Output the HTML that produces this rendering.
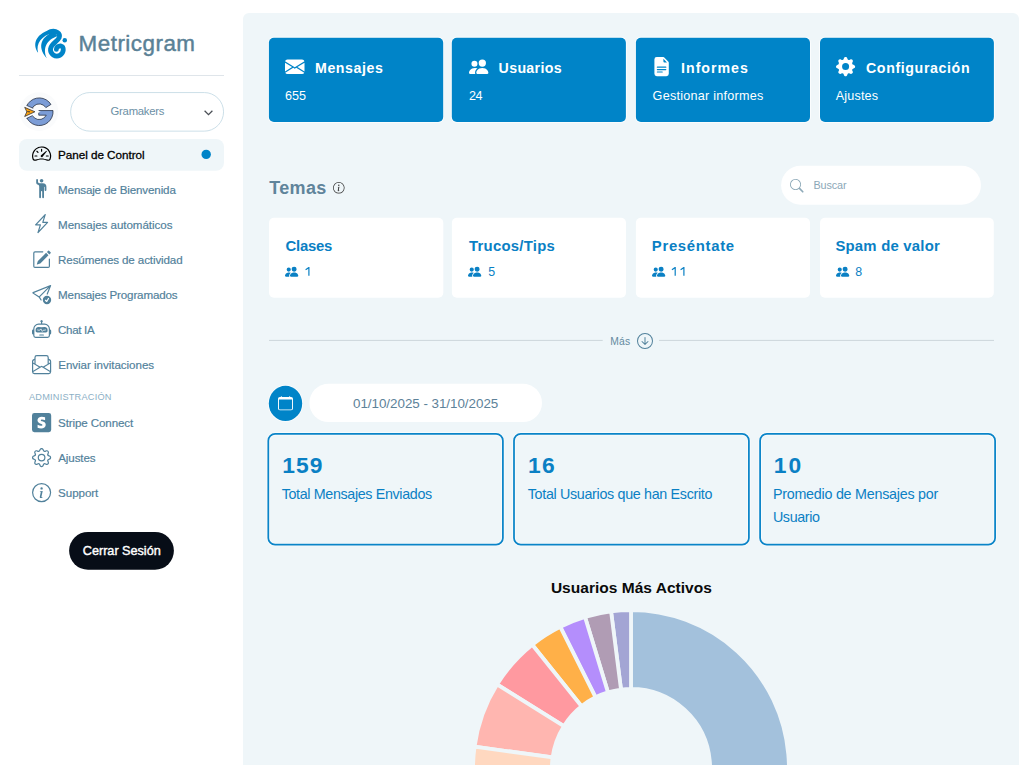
<!DOCTYPE html>
<html lang="es">
<head>
<meta charset="utf-8">
<title>Metricgram</title>
<style>
*{box-sizing:border-box;margin:0;padding:0}
html,body{width:1032px;height:765px;overflow:hidden;background:#fff}
body{position:relative;font-family:"Liberation Sans",sans-serif;color:#51819b}
svg{position:absolute;display:block;overflow:visible}
text{white-space:pre}
</style>
</head>
<body>
<svg id="bg" style="left:0;top:0" width="1032" height="765" viewBox="0 0 1032 765">
<path d="M243 766V19a6 6 0 0 1 6-6h764a6 6 0 0 1 6 6v747z" fill="#eff6f9"/>
<rect x="19" y="75" width="205" height="1" fill="#dfe5ea"/>
<rect x="70.65" y="92.55" width="152.9" height="38.6" rx="19.3" fill="#fff" stroke="#c9dde7" stroke-width="0.95"/>
<rect x="19" y="139" width="205" height="31.8" rx="8" fill="#eff6f9"/>
<circle cx="206.2" cy="154.4" r="4.7" fill="#0084c8"/>
<rect x="69.1" y="531.9" width="104.8" height="37.8" rx="18.9" fill="#070d17"/>
<g fill="#0084c8" stroke="#fff" stroke-opacity=".85" stroke-width="1.7" paint-order="stroke">
<rect x="268.9" y="37.7" width="174.3" height="84.3" rx="5"/>
<rect x="451.8" y="37.7" width="174.1" height="84.3" rx="5"/>
<rect x="635.9" y="37.7" width="174.1" height="84.3" rx="5"/>
<rect x="820" y="37.7" width="173.9" height="84.3" rx="5"/>
</g>
<rect x="781.1" y="165.7" width="199.9" height="39" rx="19.5" fill="#fff"/>
<g fill="#fff">
<rect x="269" y="217.7" width="174.3" height="80.1" rx="5"/>
<rect x="451.9" y="217.7" width="174.1" height="80.1" rx="5"/>
<rect x="635.9" y="217.7" width="174.1" height="80.1" rx="5"/>
<rect x="820" y="217.7" width="173.8" height="80.1" rx="5"/>
</g>
<rect x="269" y="339.9" width="333.7" height="1" fill="#ccd6db"/>
<rect x="659" y="339.9" width="335" height="1" fill="#ccd6db"/>
<ellipse cx="285.5" cy="403.4" rx="16.7" ry="17.6" fill="#0084c8" stroke="#fff" stroke-opacity=".8" stroke-width="1.6" paint-order="stroke"/>
<rect x="309.4" y="383.7" width="232.6" height="38.4" rx="19.2" fill="#fff"/>
<g fill="none" stroke="#fff" stroke-opacity=".7" stroke-width="3.3">
<rect x="268.3" y="433.9" width="234.6" height="110.8" rx="6.8"/>
<rect x="514" y="433.9" width="234.9" height="110.8" rx="6.8"/>
<rect x="760.1" y="433.9" width="235" height="110.8" rx="6.8"/>
</g>
<g fill="none" stroke="#0a84c8" stroke-width="1.75">
<rect x="268.3" y="433.9" width="234.6" height="110.8" rx="6.8"/>
<rect x="514" y="433.9" width="234.9" height="110.8" rx="6.8"/>
<rect x="760.1" y="433.9" width="235" height="110.8" rx="6.8"/>
</g>
<path fill="#0a80c4" d="M309.5 267V275.7H308.3V268.7L305.9 270.3L305.3 269.3L308.5 267ZM675.8 267V275.7H674.6V268.7L672.2 270.3L671.6 269.3L674.8 267ZM684.5 267V275.7H683.3V268.7L680.9 270.3L680.3 269.3L683.5 267Z"/>
</svg>
<svg id="logo" style="left:28px;top:20px" width="50" height="45" viewBox="0 0 850 765">
  <g fill="#0084c8">
    <path d="M172 556 C85 440 95 250 385 160 L420 225 C235 260 130 400 172 556Z"/>
    <path d="M320 652 C180 500 175 300 440 205 L505 275 C320 325 240 480 320 652Z"/>
    <circle cx="625" cy="345" r="38"/>
  </g>
  <path d="M375 200 C480 172 556 225 530 300 C500 372 396 400 383 490 C372 580 468 640 540 600 C620 555 612 452 560 442 C512 436 482 470 482 500" fill="none" stroke="#0084c8" stroke-linecap="round" stroke-width="82"/>
</svg>
<svg id="avatarG" style="left:14px;top:88px" width="50" height="46" viewBox="0 0 832 765">
<defs><mask id="gm"><rect width="832" height="765" fill="#fff"/><path d="M443 393 L120 250 L120 548 Z" fill="#000"/></mask></defs>
<circle cx="415" cy="392" r="322" fill="#fafbfc"/>
<g mask="url(#gm)"><path d="M615 273 A230 230 0 1 0 649.1 375 L412 375 L412 452 L536.8 452 A130 130 0 1 1 530.2 326.1 Z" fill="#7b9cd6" stroke="#1b2333" stroke-width="12" stroke-linejoin="round"/></g>
<path d="M213 291 L314 336 M213 504 L302 461" stroke="#1b2333" stroke-width="11" stroke-linecap="round"/>
<path d="M178 322 L348 395 L178 474 L214 395 Z" fill="#fca311" stroke="#1b2333" stroke-width="12" stroke-linejoin="round"/>
<path d="M196 395 L262 381 L262 408 Z" fill="#3a3a3a"/>
</svg>
<svg style="left:204.3px;top:109.6px" width="9" height="6" viewBox="0 0 9 6"><path d="M.6.7 4.5 4.7 8.4.7" fill="none" stroke="#4a4f55" stroke-width="1.25"/></svg>
<svg style="left:31.9px;top:143.6px" width="19.2" height="19.2" viewBox="0 0 16 16" fill="#000"><path d="M8 4a.5.5 0 0 1 .5.5V6a.5.5 0 0 1-1 0V4.500A.5.5 0 0 1 8 4zM3.732 5.732a.5.5 0 0 1 .707 0l.915.914a.5.5 0 1 1-.708.708l-.914-.915a.5.5 0 0 1 0-.707zM2 10a.5.5 0 0 1 .5-.5h1.586a.5.5 0 0 1 0 1H2.500A.5.5 0 0 1 2 10zm9.500 0a.5.5 0 0 1 .5-.5h1.500a.5.5 0 0 1 0 1H12a.5.5 0 0 1-.5-.5zm.754-4.246a.389.389 0 0 0-.527-.020L7.547 9.310a.910.910 0 1 0 1.302 1.258l3.434-4.297a.389.389 0 0 0-.029-.518z"/><path fill-rule="evenodd" d="M0 10a8 8 0 1 1 15.547 2.661c-.442 1.253-1.845 1.602-2.932 1.250C11.309 13.488 9.475 13 8 13c-1.474 0-3.310.488-4.615.911-1.087.352-2.490.003-2.932-1.250A7.988 7.988 0 0 1 0 10zm8-7a7 7 0 0 0-6.603 9.329c.203.575.923.876 1.680.630C4.397 12.533 6.358 12 8 12s3.604.532 4.923.960c.757.245 1.477-.056 1.680-.631A7 7 0 0 0 8 3z"/></svg>
<svg style="left:31.8px;top:178.85px" width="19.2" height="19.2" viewBox="0 0 16 16" fill="#51819b"><path d="M6 6.207v9.043a.75.75 0 0 0 1.500 0V10.500a.5.5 0 0 1 1 0v4.750a.75.75 0 0 0 1.500 0v-8.500a.25.25 0 1 1 .5 0v2.500a.75.75 0 0 0 1.500 0V6.500a3 3 0 0 0-3-3H6.236a.998.998 0 0 1-.447-.106l-.330-.165A.830.830 0 0 1 5 2.488V.750a.75.75 0 0 0-1.500 0v2.083c0 .715.404 1.370 1.044 1.689L5.500 5c.320.320.500.754.500 1.207Z"/><path d="M8 3a1.500 1.500 0 1 0 0-3 1.500 1.500 0 0 0 0 3Z"/></svg>
<svg style="left:31.8px;top:213.9px" width="19.2" height="19.2" viewBox="0 0 16 16" fill="#51819b"><path d="M11.251.068a.5.5 0 0 1 .227.580L9.677 6.500H13a.5.5 0 0 1 .364.843l-8 8.500a.5.5 0 0 1-.842-.490L6.323 9.500H3a.5.5 0 0 1-.364-.843l8-8.500a.5.5 0 0 1 .615-.090zM4.157 8.500H7a.5.5 0 0 1 .478.647L6.110 13.590l5.732-6.090H9a.5.5 0 0 1-.478-.647L9.890 2.410 4.157 8.500z"/></svg>
<svg style="left:31.86px;top:249.85px" width="19.2" height="19.2" viewBox="0 0 16 16" fill="#51819b"><path d="M15.502 1.940a.5.5 0 0 1 0 .706L14.459 3.690l-2-2L13.502.646a.5.5 0 0 1 .707 0l1.293 1.293zm-1.750 2.456-2-2L4.939 9.210a.5.5 0 0 0-.121.196l-.805 2.414a.25.25 0 0 0 .316.316l2.414-.805a.5.5 0 0 0 .196-.120l6.813-6.814z"/><path fill-rule="evenodd" d="M1 13.500A1.500 1.500 0 0 0 2.500 15h11a1.500 1.500 0 0 0 1.500-1.500v-6a.5.5 0 0 0-1 0v6a.5.5 0 0 1-.5.5h-11a.5.5 0 0 1-.5-.5v-11a.5.5 0 0 1 .5-.5H9a.5.5 0 0 0 0-1H2.500A1.500 1.500 0 0 0 1 2.500v11z"/></svg>
<svg style="left:31.9px;top:284.9px" width="19.2" height="19.2" viewBox="0 0 16 16" fill="#51819b"><path d="M15.964.686a.5.5 0 0 0-.650-.650L.767 5.855a.75.75 0 0 0-.124 1.329l4.995 3.178 1.531 2.406a.5.5 0 0 0 .844-.536L6.637 10.070l7.494-7.494-1.895 4.738a.5.5 0 1 0 .928.372l2.800-7Zm-2.540 1.183L5.930 9.363 1.591 6.602l11.833-4.733Z"/><path d="M16 12.500a3.500 3.500 0 1 1-7 0 3.500 3.500 0 0 1 7 0Zm-1.993-1.679a.5.5 0 0 0-.686.172l-1.170 1.950-.547-.547a.5.5 0 0 0-.708.708l.774.773a.75.75 0 0 0 1.174-.144l1.335-2.226a.5.5 0 0 0-.172-.686Z"/></svg>
<svg style="left:31.9px;top:319.9px" width="19.2" height="19.2" viewBox="0 0 16 16" fill="#51819b"><path d="M6 12.500a.5.5 0 0 1 .5-.5h3a.5.5 0 0 1 0 1h-3a.5.5 0 0 1-.5-.5ZM3 8.062C3 6.760 4.235 5.765 5.530 5.886a26.580 26.580 0 0 0 4.940 0C11.765 5.765 13 6.760 13 8.062v1.157a.933.933 0 0 1-.765.935c-.845.147-2.340.346-4.235.346-1.895 0-3.390-.200-4.235-.346A.933.933 0 0 1 3 9.219V8.062Zm4.542-.827a.25.25 0 0 0-.217.068l-.920.900a24.767 24.767 0 0 1-1.871-.183.25.25 0 0 0-.068.495c.550.076 1.232.149 2.020.193a.25.25 0 0 0 .189-.071l.754-.736.847 1.710a.25.25 0 0 0 .404.062l.932-.970a25.286 25.286 0 0 0 1.922-.188.25.25 0 0 0-.068-.495c-.538.074-1.207.145-1.980.189a.25.25 0 0 0-.166.076l-.754.785-.842-1.700a.25.25 0 0 0-.182-.135Z"/><path d="M8.500 1.866a1 1 0 1 0-1 0V3h-2A4.500 4.500 0 0 0 1 7.500V8a1 1 0 0 0-1 1v2a1 1 0 0 0 1 1v1a2 2 0 0 0 2 2h10a2 2 0 0 0 2-2v-1a1 1 0 0 0 1-1V9a1 1 0 0 0-1-1v-.5A4.500 4.500 0 0 0 10.500 3h-2V1.866ZM14 7.500V13a1 1 0 0 1-1 1H3a1 1 0 0 1-1-1V7.500A3.500 3.500 0 0 1 5.500 4h5A3.500 3.500 0 0 1 14 7.500Z"/></svg>
<svg style="left:31.9px;top:354.9px" width="19.2" height="19.2" viewBox="0 0 16 16" fill="#51819b"><path d="M4 0a2 2 0 0 0-2 2v1.133l-.941.502A2 2 0 0 0 0 5.400V14a2 2 0 0 0 2 2h12a2 2 0 0 0 2-2V5.400a2 2 0 0 0-1.059-1.765L14 3.133V2a2 2 0 0 0-2-2H4Zm10 4.267.470.250A1 1 0 0 1 15 5.400v.817l-1 .600v-2.550Zm-1 3.150-3.750 2.250L8 8.917l-1.250.750L3 7.417V2a1 1 0 0 1 1-1h8a1 1 0 0 1 1 1v5.417Zm-11-.600-1-.600V5.400a1 1 0 0 1 .530-.882L2 4.267v2.550Zm13 .566v5.734l-4.778-2.867L15 7.383Zm-.035 6.880A1 1 0 0 1 14 15H2a1 1 0 0 1-.965-.738L8 10.083l6.965 4.180ZM1 13.116V7.383l4.778 2.867L1 13.117Z"/></svg>
<svg style="left:31.9px;top:412.9px" width="19.2" height="19.2" viewBox="0 0 16 16" fill="#51819b"><path d="M2 0a2 2 0 0 0-2 2v12a2 2 0 0 0 2 2h12a2 2 0 0 0 2-2V2a2 2 0 0 0-2-2H2Zm6.226 5.385c-.584 0-.937.164-.937.590 0 .466.600.670 1.345.925 1.214.410 2.812.953 2.819 2.961 0 1.946-1.555 3.065-3.818 3.065a7.550 7.550 0 0 1-2.966-.616v-2.588c.913.498 2.065.868 2.966.868.608 0 1.043-.163 1.043-.663 0-.512-.648-.746-1.431-1.028-1.192-.430-2.696-.973-2.696-2.786 0-1.925 1.470-3.076 3.675-3.076.901 0 1.792.140 2.692.498v2.552c-.827-.446-1.875-.702-2.692-.702Z"/></svg>
<svg style="left:31.9px;top:447.9px" width="19.2" height="19.2" viewBox="0 0 16 16" fill="#51819b"><path d="M8 4.754a3.246 3.246 0 1 0 0 6.492 3.246 3.246 0 0 0 0-6.492zM5.754 8a2.246 2.246 0 1 1 4.492 0 2.246 2.246 0 0 1-4.492 0z"/><path d="M9.796 1.343c-.527-1.790-3.065-1.790-3.592 0l-.094.319a.873.873 0 0 1-1.255.520l-.292-.160c-1.640-.892-3.433.902-2.540 2.541l.159.292a.873.873 0 0 1-.520 1.255l-.319.094c-1.790.527-1.790 3.065 0 3.592l.319.094a.873.873 0 0 1 .520 1.255l-.160.292c-.892 1.640.901 3.434 2.541 2.540l.292-.159a.873.873 0 0 1 1.255.520l.094.319c.527 1.790 3.065 1.790 3.592 0l.094-.319a.873.873 0 0 1 1.255-.520l.292.160c1.640.893 3.434-.902 2.540-2.541l-.159-.292a.873.873 0 0 1 .520-1.255l.319-.094c1.790-.527 1.790-3.065 0-3.592l-.319-.094a.873.873 0 0 1-.520-1.255l.160-.292c.893-1.640-.902-3.433-2.541-2.540l-.292.159a.873.873 0 0 1-1.255-.520l-.094-.319zm-2.633.283c.246-.835 1.428-.835 1.674 0l.094.319a1.873 1.873 0 0 0 2.693 1.115l.291-.160c.764-.415 1.600.420 1.184 1.185l-.159.292a1.873 1.873 0 0 0 1.116 2.692l.318.094c.835.246.835 1.428 0 1.674l-.319.094a1.873 1.873 0 0 0-1.115 2.693l.160.291c.415.764-.420 1.600-1.185 1.184l-.291-.159a1.873 1.873 0 0 0-2.693 1.116l-.094.318c-.246.835-1.428.835-1.674 0l-.094-.319a1.873 1.873 0 0 0-2.692-1.115l-.292.160c-.764.415-1.600-.420-1.184-1.185l.159-.291A1.873 1.873 0 0 0 1.945 8.930l-.319-.094c-.835-.246-.835-1.428 0-1.674l.319-.094A1.873 1.873 0 0 0 3.060 4.377l-.160-.292c-.415-.764.420-1.600 1.185-1.184l.292.159a1.873 1.873 0 0 0 2.692-1.115l.094-.319z"/></svg>
<svg style="left:31.9px;top:482.9px" width="19.2" height="19.2" viewBox="0 0 16 16" fill="#51819b"><path d="M8 15A7 7 0 1 1 8 1a7 7 0 0 1 0 14zm0 1A8 8 0 1 0 8 0a8 8 0 0 0 0 16z"/><path d="m8.930 6.588-2.290.287-.082.380.450.083c.294.070.352.176.288.469l-.738 3.468c-.194.897.105 1.319.808 1.319.545 0 1.178-.252 1.465-.598l.088-.416c-.200.176-.492.246-.686.246-.275 0-.375-.193-.304-.533L8.930 6.588zM9 4.500a1 1 0 1 1-2 0 1 1 0 0 1 2 0z"/></svg>
<svg style="left:278px;top:395.8px" width="15" height="14.3" viewBox="0 0 16 16" preserveAspectRatio="none" fill="#fff"><path d="M3.500 0a.5.5 0 0 1 .5.5V1h8V.500a.5.5 0 0 1 1 0V1h1a2 2 0 0 1 2 2v11a2 2 0 0 1-2 2H2a2 2 0 0 1-2-2V3a2 2 0 0 1 2-2h1V.500a.5.5 0 0 1 .5-.5zM1 4v10a1 1 0 0 0 1 1h12a1 1 0 0 0 1-1V4H1z"/></svg>
<svg style="left:285px;top:56.6px" width="19.5" height="19.5" viewBox="0 0 16 16" fill="#fff"><path d="M.05 3.555A2 2 0 0 1 2 2h12a2 2 0 0 1 1.950 1.555L8 8.414.05 3.555ZM0 4.697v7.104l5.803-3.558L0 4.697ZM6.761 8.830l-6.570 4.027A2 2 0 0 0 2 14h12a2 2 0 0 0 1.808-1.144l-6.570-4.027L8 9.586l-1.239-.757Zm3.436-.586L16 11.801V4.697l-5.803 3.546Z"/></svg>
<svg style="left:468.5px;top:56.8px" width="19.4" height="19.4" viewBox="0 0 16 16" fill="#fff"><path d="M7 14s-1 0-1-1 1-4 5-4 5 3 5 4-1 1-1 1H7Zm4-6a3 3 0 1 0 0-6 3 3 0 0 0 0 6Zm-5.784 6A2.238 2.238 0 0 1 5 13c0-1.355.680-2.750 1.936-3.720A6.325 6.325 0 0 0 5 9c-4 0-5 3-5 4s1 1 1 1h4.216ZM4.500 8a2.500 2.500 0 1 0 0-5 2.500 2.500 0 0 0 0 5Z"/></svg>
<svg style="left:651.8px;top:56.8px" width="19.2" height="19.2" viewBox="0 0 16 16" fill="#fff"><path d="M9.293 0H4a2 2 0 0 0-2 2v12a2 2 0 0 0 2 2h8a2 2 0 0 0 2-2V4.707A1 1 0 0 0 13.707 4L10 .293A1 1 0 0 0 9.293 0zM9.500 3.500v-2l3 3h-2a1 1 0 0 1-1-1zM4.500 9a.5.5 0 0 1 0-1h7a.5.5 0 0 1 0 1h-7zM4 10.500a.5.5 0 0 1 .5-.5h7a.5.5 0 0 1 0 1h-7a.5.5 0 0 1-.5-.5zm.5 2.500a.5.5 0 0 1 0-1h4a.5.5 0 0 1 0 1h-4z"/></svg>
<svg style="left:835.5px;top:56.9px" width="19.2" height="19.2" viewBox="0 0 16 16" fill="#fff"><path d="M9.405 1.050c-.413-1.400-2.397-1.400-2.810 0l-.100.340a1.464 1.464 0 0 1-2.105.872l-.310-.170c-1.283-.698-2.686.705-1.987 1.987l.169.311c.446.820.023 1.841-.872 2.105l-.340.100c-1.400.413-1.400 2.397 0 2.810l.340.100a1.464 1.464 0 0 1 .872 2.105l-.170.310c-.698 1.283.705 2.686 1.987 1.987l.311-.169a1.464 1.464 0 0 1 2.105.872l.100.340c.413 1.400 2.397 1.400 2.810 0l.100-.340a1.464 1.464 0 0 1 2.105-.872l.310.170c1.283.698 2.686-.705 1.987-1.987l-.169-.311a1.464 1.464 0 0 1 .872-2.105l.340-.100c1.400-.413 1.400-2.397 0-2.810l-.340-.100a1.464 1.464 0 0 1-.872-2.105l.170-.310c.698-1.283-.705-2.686-1.987-1.987l-.311.169a1.464 1.464 0 0 1-2.105-.872l-.100-.340zM8 10.930a2.929 2.929 0 1 1 0-5.860 2.929 2.929 0 0 1 0 5.858z"/></svg>
<svg style="left:333px;top:181.6px" width="11.6" height="11.6" viewBox="0 0 16 16" fill="#333"><path d="M8 15A7 7 0 1 1 8 1a7 7 0 0 1 0 14zm0 1A8 8 0 1 0 8 0a8 8 0 0 0 0 16z"/><path d="m8.930 6.588-2.290.287-.082.380.450.083c.294.070.352.176.288.469l-.738 3.468c-.194.897.105 1.319.808 1.319.545 0 1.178-.252 1.465-.598l.088-.416c-.200.176-.492.246-.686.246-.275 0-.375-.193-.304-.533L8.930 6.588zM9 4.500a1 1 0 1 1-2 0 1 1 0 0 1 2 0z"/></svg>
<svg style="left:790px;top:179px" width="13.6" height="13.6" viewBox="0 0 16 16" fill="#8eaab9"><path d="M11.742 10.344a6.500 6.500 0 1 0-1.397 1.398h-.001c.030.040.062.078.098.115l3.850 3.850a1 1 0 0 0 1.415-1.414l-3.850-3.850a1.007 1.007 0 0 0-.115-.100zM12 6.500a5.500 5.500 0 1 1-11 0 5.500 5.500 0 0 1 11 0z"/></svg>
<svg style="left:285px;top:265px" width="13.3" height="13.3" viewBox="0 0 16 16" fill="#0a80c4"><path d="M7 14s-1 0-1-1 1-4 5-4 5 3 5 4-1 1-1 1H7Zm4-6a3 3 0 1 0 0-6 3 3 0 0 0 0 6Zm-5.784 6A2.238 2.238 0 0 1 5 13c0-1.355.680-2.750 1.936-3.720A6.325 6.325 0 0 0 5 9c-4 0-5 3-5 4s1 1 1 1h4.216ZM4.500 8a2.500 2.500 0 1 0 0-5 2.500 2.500 0 0 0 0 5Z"/></svg>
<svg style="left:468px;top:265px" width="13.3" height="13.3" viewBox="0 0 16 16" fill="#0a80c4"><path d="M7 14s-1 0-1-1 1-4 5-4 5 3 5 4-1 1-1 1H7Zm4-6a3 3 0 1 0 0-6 3 3 0 0 0 0 6Zm-5.784 6A2.238 2.238 0 0 1 5 13c0-1.355.680-2.750 1.936-3.720A6.325 6.325 0 0 0 5 9c-4 0-5 3-5 4s1 1 1 1h4.216ZM4.500 8a2.500 2.500 0 1 0 0-5 2.500 2.500 0 0 0 0 5Z"/></svg>
<svg style="left:652px;top:265px" width="13.3" height="13.3" viewBox="0 0 16 16" fill="#0a80c4"><path d="M7 14s-1 0-1-1 1-4 5-4 5 3 5 4-1 1-1 1H7Zm4-6a3 3 0 1 0 0-6 3 3 0 0 0 0 6Zm-5.784 6A2.238 2.238 0 0 1 5 13c0-1.355.680-2.750 1.936-3.720A6.325 6.325 0 0 0 5 9c-4 0-5 3-5 4s1 1 1 1h4.216ZM4.500 8a2.500 2.500 0 1 0 0-5 2.500 2.500 0 0 0 0 5Z"/></svg>
<svg style="left:835.5px;top:265px" width="13.3" height="13.3" viewBox="0 0 16 16" fill="#0a80c4"><path d="M7 14s-1 0-1-1 1-4 5-4 5 3 5 4-1 1-1 1H7Zm4-6a3 3 0 1 0 0-6 3 3 0 0 0 0 6Zm-5.784 6A2.238 2.238 0 0 1 5 13c0-1.355.680-2.750 1.936-3.720A6.325 6.325 0 0 0 5 9c-4 0-5 3-5 4s1 1 1 1h4.216ZM4.500 8a2.500 2.500 0 1 0 0-5 2.500 2.500 0 0 0 0 5Z"/></svg>
<svg style="left:637px;top:333px" width="16" height="16" viewBox="0 0 16 16" fill="#51819b"><path fill-rule="evenodd" d="M1 8a7 7 0 1 0 14 0A7 7 0 0 0 1 8zm15 0A8 8 0 1 1 0 8a8 8 0 0 1 16 0zM8.500 4.500a.5.5 0 0 0-1 0v5.793L5.354 8.146a.5.5 0 1 0-.708.708l3 3a.5.5 0 0 0 .708 0l3-3a.5.5 0 0 0-.708-.708L8.500 10.293V4.500z"/></svg>
<svg id="donut" style="left:0;top:0" width="1032" height="765" viewBox="0 0 1032 765"><g stroke="#eff6f9" stroke-width="3.8" stroke-linejoin="miter"><path d="M658.42 923.50A157.9 157.9 0 0 0 631.00 610.10L631.00 688.90A79.1 79.1 0 0 1 644.74 845.90Z" fill="#a3c1dc"/><path d="M631.00 610.10A157.9 157.9 0 0 0 611.05 611.37L621.01 689.53A79.1 79.1 0 0 1 631.00 688.90Z" fill="#a3a5d4"/><path d="M611.05 611.37A157.9 157.9 0 0 0 585.00 616.95L607.96 692.33A79.1 79.1 0 0 1 621.01 689.53Z" fill="#b09cb4"/><path d="M585.00 616.95A157.9 157.9 0 0 0 560.27 626.83L595.57 697.28A79.1 79.1 0 0 1 607.96 692.33Z" fill="#b48efc"/><path d="M560.27 626.83A157.9 157.9 0 0 0 532.25 644.79L581.53 706.28A79.1 79.1 0 0 1 595.57 697.28Z" fill="#ffb048"/><path d="M532.25 644.79A157.9 157.9 0 0 0 497.00 684.48L563.87 726.16A79.1 79.1 0 0 1 581.53 706.28Z" fill="#ff99a0"/><path d="M497.00 684.48A157.9 157.9 0 0 0 474.54 746.73L552.62 757.34A79.1 79.1 0 0 1 563.87 726.16Z" fill="#ffb6b0"/><path d="M474.54 746.73A157.9 157.9 0 0 0 484.60 827.15L557.66 797.63A79.1 79.1 0 0 1 552.62 757.34Z" fill="#ffd8c0"/></g></svg>
<svg id="txt" style="left:0;top:0" width="1032" height="765" viewBox="0 0 1032 765" font-family="Liberation Sans, sans-serif">
<text class="t" x="78.62" y="51" font-size="22.4" fill="#5a8196" stroke="#5a8196" stroke-width="0.45" stroke-linejoin="round" style="letter-spacing:0.493px">Metricgram</text>
<text class="t" x="110.60" y="115" font-size="11.3" fill="#6c8fa5" style="letter-spacing:-0.265px">Gramakers</text>
<text class="t" x="57.95" y="159" font-size="11.7" fill="#000" stroke="#000" stroke-width="0.3" stroke-linejoin="round" style="letter-spacing:-0.024px">Panel de Control</text>
<text class="t" x="58.09" y="194" font-size="11.6" fill="#51819b" stroke="#51819b" stroke-width="0.18" stroke-linejoin="round" style="letter-spacing:-0.138px">Mensaje de Bienvenida</text>
<text class="t" x="58.09" y="229" font-size="11.6" fill="#51819b" stroke="#51819b" stroke-width="0.18" stroke-linejoin="round" style="letter-spacing:-0.049px">Mensajes automáticos</text>
<text class="t" x="58.09" y="264" font-size="11.6" fill="#51819b" stroke="#51819b" stroke-width="0.18" stroke-linejoin="round" style="letter-spacing:-0.114px">Resúmenes de actividad</text>
<text class="t" x="58.09" y="299" font-size="11.6" fill="#51819b" stroke="#51819b" stroke-width="0.18" stroke-linejoin="round" style="letter-spacing:-0.154px">Mensajes Programados</text>
<text class="t" x="58.09" y="334" font-size="11.6" fill="#51819b" stroke="#51819b" stroke-width="0.18" stroke-linejoin="round" style="letter-spacing:-0.352px">Chat IA</text>
<text class="t" x="58.19" y="369" font-size="11.6" fill="#51819b" stroke="#51819b" stroke-width="0.18" stroke-linejoin="round" style="letter-spacing:-0.041px">Enviar invitaciones</text>
<text class="t" x="29.00" y="400" font-size="9.2" fill="#8db0c6" style="letter-spacing:0.216px">ADMINISTRACIÓN</text>
<text class="t" x="58.09" y="427" font-size="11.6" fill="#51819b" stroke="#51819b" stroke-width="0.18" stroke-linejoin="round" style="letter-spacing:-0.119px">Stripe Connect</text>
<text class="t" x="58.19" y="462" font-size="11.6" fill="#51819b" stroke="#51819b" stroke-width="0.18" stroke-linejoin="round" style="letter-spacing:-0.100px">Ajustes</text>
<text class="t" x="58.09" y="497" font-size="11.6" fill="#51819b" stroke="#51819b" stroke-width="0.18" stroke-linejoin="round" style="letter-spacing:-0.061px">Support</text>
<text class="t" x="82.80" y="555" font-size="12.7" fill="#fff" stroke="#fff" stroke-width="0.4" stroke-linejoin="round" style="letter-spacing:-0.026px">Cerrar Sesión</text>
<text class="t" x="315.00" y="73" font-size="14.2" fill="#fff" font-weight="bold" style="letter-spacing:0.573px">Mensajes</text>
<text class="t" x="285.00" y="100" font-size="12.6" fill="#fff" style="letter-spacing:-0.004px">655</text>
<text class="t" x="498.60" y="73" font-size="14.2" fill="#fff" font-weight="bold" style="letter-spacing:0.325px">Usuarios</text>
<text class="t" x="469.00" y="100" font-size="12.6" fill="#fff" style="letter-spacing:-0.404px">24</text>
<text class="t" x="681.10" y="73" font-size="14.2" fill="#fff" font-weight="bold" style="letter-spacing:0.968px">Informes</text>
<text class="t" x="652.60" y="100" font-size="12.6" fill="#fff" style="letter-spacing:0.253px">Gestionar informes</text>
<text class="t" x="866.00" y="73" font-size="14.2" fill="#fff" font-weight="bold" style="letter-spacing:0.618px">Configuración</text>
<text class="t" x="835.80" y="100" font-size="12.6" fill="#fff" style="letter-spacing:0.150px">Ajustes</text>
<text class="t" x="269.30" y="194" font-size="18.0" fill="#5f849b" font-weight="bold" style="letter-spacing:0.329px">Temas</text>
<text class="t" x="813.50" y="189" font-size="10.8" fill="#8ba7b7" style="letter-spacing:-0.122px">Buscar</text>
<text class="t" x="285.60" y="251" font-size="14.9" fill="#0a80c4" font-weight="bold" style="letter-spacing:-0.267px">Clases</text>
<text class="t" x="469.00" y="251" font-size="14.9" fill="#0a80c4" font-weight="bold" style="letter-spacing:0.258px">Trucos/Tips</text>
<text class="t" x="651.80" y="251" font-size="14.9" fill="#0a80c4" font-weight="bold" style="letter-spacing:0.682px">Preséntate</text>
<text class="t" x="835.40" y="251" font-size="14.9" fill="#0a80c4" font-weight="bold" style="letter-spacing:0.217px">Spam de valor</text>
<text class="t" x="488.30" y="276" font-size="12.4" fill="#0a80c4" style="letter-spacing:0.000px">5</text>
<text class="t" x="855.30" y="276" font-size="12.4" fill="#0a80c4" style="letter-spacing:0.000px">8</text>
<text class="t" x="610.20" y="345" font-size="10.3" fill="#648a9f" style="letter-spacing:0.248px">Más</text>
<text class="t" x="353.00" y="408" font-size="13.4" fill="#5d8299" style="letter-spacing:-0.031px">01/10/2025 - 31/10/2025</text>
<text class="t" x="282.20" y="473" font-size="22.8" fill="#0a80c4" font-weight="bold" style="letter-spacing:1.071px">159</text>
<text class="t" x="281.70" y="499" font-size="14.3" fill="#0a80c4" style="letter-spacing:-0.350px">Total Mensajes Enviados</text>
<text class="t" x="527.90" y="473" font-size="22.8" fill="#0a80c4" font-weight="bold" style="letter-spacing:1.521px">16</text>
<text class="t" x="527.80" y="499" font-size="14.3" fill="#0a80c4" style="letter-spacing:-0.322px">Total Usuarios que han Escrito</text>
<text class="t" x="773.70" y="473" font-size="22.8" fill="#0a80c4" font-weight="bold" style="letter-spacing:2.021px">10</text>
<text class="t" x="772.90" y="499" font-size="14.3" fill="#0a80c4" style="letter-spacing:-0.239px">Promedio de Mensajes por</text>
<text class="t" x="772.90" y="522" font-size="14.3" fill="#0a80c4" style="letter-spacing:-0.369px">Usuario</text>
<text class="t" x="550.90" y="593" font-size="15.5" fill="#0a0a0a" font-weight="bold" style="letter-spacing:0.023px">Usuarios Más Activos</text>
</svg>
</body>
</html>
